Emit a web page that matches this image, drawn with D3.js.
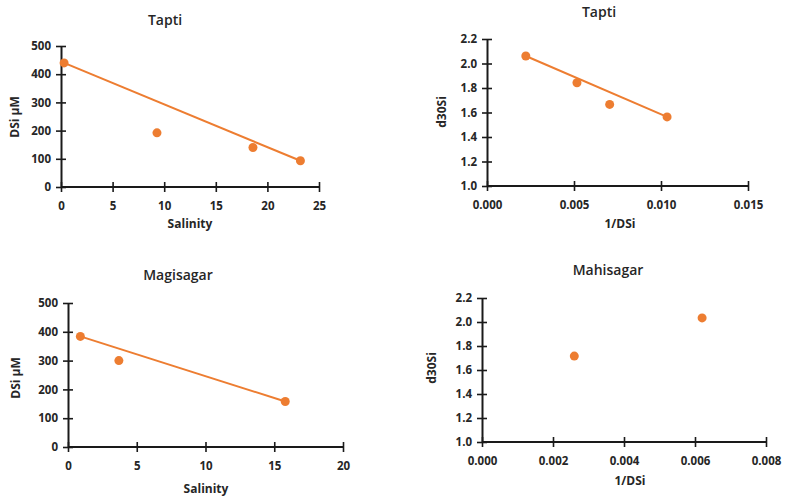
<!DOCTYPE html>
<html>
<head>
<meta charset="utf-8">
<script src="https://cdn.jsdelivr.net/npm/d3@7"></script>
<style>
  html, body { margin: 0; padding: 0; background: #fff; }
  svg { display: block; }
  text { font-family: "Open Sans", "Liberation Sans", sans-serif; fill: #262626; }
</style>
</head>
<body>
<svg id="chart" width="785" height="502"></svg>
<script>
// Tapti: dissolved silica vs salinity
const taptiSalinity = [0.3, 9.3, 18.6, 23.2];
const taptiDSi = [440, 192, 140, 93];
// Tapti: d30Si vs 1/DSi
const taptiInvDSi = [0.00223, 0.00517, 0.00705, 0.01035];
const taptiD30Si = [2.061, 1.843, 1.666, 1.564];
// Magisagar: dissolved silica vs salinity
const magiSalinity = [0.9, 3.7, 15.8];
const magiDSi = [384, 300, 158];
// Mahisagar: d30Si vs 1/DSi
const mahiInvDSi = [0.0026, 0.0062];
const mahiD30Si = [1.716, 2.034];

// Axis tick values
const salinityTicks25 = [0, 5, 10, 15, 20, 25];
const salinityTicks20 = [0, 5, 10, 15, 20];
const dsiTicks = [0, 100, 200, 300, 400, 500];
const d30Ticks = [1.0, 1.2, 1.4, 1.6, 1.8, 2.0, 2.2];
const invTicks15 = [0, 0.005, 0.010, 0.015];
const invTicks8 = [0, 0.002, 0.004, 0.006, 0.008];

const orange = "#ED7D31";
const svg = d3.select("#chart");

function panel(cfg) {
  const g = svg.append("g");
  const x = d3.scaleLinear().domain(cfg.xDomain).range([cfg.left, cfg.right]);
  const y = d3.scaleLinear().domain(cfg.yDomain).range([cfg.bottom, cfg.top]);

  const xAxis = g.append("g").attr("transform", `translate(0,${cfg.bottom})`)
    .call(d3.axisBottom(x).tickValues(cfg.xTicks).tickFormat(cfg.xFmt).tickSizeInner(5).tickSizeOuter(0));
  xAxis.selectAll(".tick line").attr("y1", -5).attr("y2", 5);
  xAxis.selectAll(".tick text").attr("dy", "1.3em");

  const yAxis = g.append("g").attr("transform", `translate(${cfg.left},0)`)
    .call(d3.axisLeft(y).tickValues(cfg.yTicks).tickFormat(cfg.yFmt).tickSizeInner(5).tickSizeOuter(0));
  yAxis.selectAll(".tick line").attr("x1", -5).attr("x2", 5);
  yAxis.selectAll(".tick text").attr("x", -10);

  [xAxis, yAxis].forEach(a => {
    a.select(".domain").attr("stroke", "#1a1a1a").attr("stroke-width", 2);
    a.selectAll(".tick line").attr("stroke", "#1a1a1a").attr("stroke-width", 1.6);
    a.selectAll(".tick text").style("font-size", "11.5px").style("font-weight", 700).attr("fill", "#2b2b2b");
  });
  // extend x axis line to the y axis
  xAxis.select(".domain").attr("d", `M${cfg.left},0H${cfg.right}`);

  if (cfg.line) {
    const n = cfg.xs.length - 1;
    g.append("line")
      .attr("x1", x(cfg.xs[0])).attr("y1", y(cfg.ys[0]))
      .attr("x2", x(cfg.xs[n])).attr("y2", y(cfg.ys[n]))
      .attr("stroke", orange).attr("stroke-width", 2);
  }

  g.selectAll("circle").data(cfg.xs.map((v, i) => [v, cfg.ys[i]])).join("circle")
    .attr("cx", d => x(d[0])).attr("cy", d => y(d[1])).attr("r", 4.5).attr("fill", orange);

  g.append("text").attr("x", cfg.titleX).attr("y", cfg.titleY).attr("text-anchor", "middle")
    .style("font-size", "14px").style("font-weight", 600).text(cfg.title);
  g.append("text").attr("x", cfg.xLabelX).attr("y", cfg.xLabelY).attr("text-anchor", "middle")
    .style("font-size", "12px").style("font-weight", 700).text(cfg.xLabel);
  g.append("text").attr("transform", `translate(${cfg.yLabelX},${cfg.yLabelY}) rotate(-90)`)
    .attr("text-anchor", "middle")
    .style("font-size", "12px").style("font-weight", 700).text(cfg.yLabel);
}

const fmt3 = d3.format(".3f"), fmt1 = d3.format(".1f"), fmt0 = d3.format("d");

panel({ title: "Tapti", titleX: 165, titleY: 25, xs: taptiSalinity, ys: taptiDSi, line: true,
  xDomain: [0, 25], yDomain: [0, 500], left: 61, right: 319, top: 46, bottom: 187,
  xTicks: salinityTicks25, yTicks: dsiTicks, xFmt: fmt0, yFmt: fmt0,
  xLabel: "Salinity", xLabelX: 190, xLabelY: 228, yLabel: "DSi µM", yLabelX: 19, yLabelY: 117 });

panel({ title: "Tapti", titleX: 599, titleY: 17, xs: taptiInvDSi, ys: taptiD30Si, line: true,
  xDomain: [0, 0.015], yDomain: [1.0, 2.2], left: 487, right: 748, top: 39, bottom: 186,
  xTicks: invTicks15, yTicks: d30Ticks, xFmt: fmt3, yFmt: fmt1,
  xLabel: "1/DSi", xLabelX: 620, xLabelY: 228, yLabel: "d30Si", yLabelX: 446, yLabelY: 112 });

panel({ title: "Magisagar", titleX: 178, titleY: 280, xs: magiSalinity, ys: magiDSi, line: true,
  xDomain: [0, 20], yDomain: [0, 500], left: 68, right: 343, top: 303, bottom: 447,
  xTicks: salinityTicks20, yTicks: dsiTicks, xFmt: fmt0, yFmt: fmt0,
  xLabel: "Salinity", xLabelX: 206, xLabelY: 493, yLabel: "DSi µM", yLabelX: 20, yLabelY: 378 });

panel({ title: "Mahisagar", titleX: 608, titleY: 275, xs: mahiInvDSi, ys: mahiD30Si, line: false,
  xDomain: [0, 0.008], yDomain: [1.0, 2.2], left: 482, right: 766, top: 298, bottom: 442,
  xTicks: invTicks8, yTicks: d30Ticks, xFmt: fmt3, yFmt: fmt1,
  xLabel: "1/DSi", xLabelX: 630, xLabelY: 485, yLabel: "d30Si", yLabelX: 436, yLabelY: 368 });
</script>
</body>
</html>
